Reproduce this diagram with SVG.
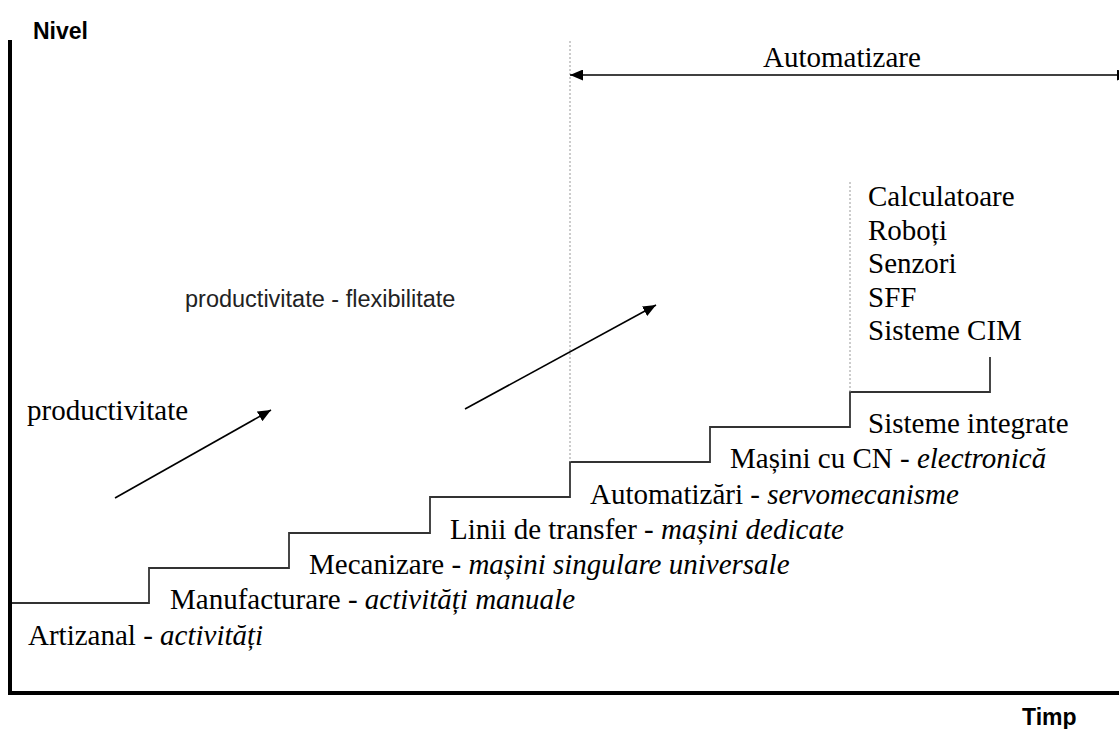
<svg xmlns="http://www.w3.org/2000/svg" width="1119" height="729" viewBox="0 0 1119 729">
<style>
.serif{font-family:"Liberation Serif","Times New Roman",serif;font-size:29px;fill:#000}
.it{font-style:italic}
.sans{font-family:"Liberation Sans",Arial,sans-serif;font-size:23.5px;fill:#222}
.bold{font-family:"Liberation Sans",Arial,sans-serif;font-size:23px;font-weight:bold;fill:#000}
.axis{stroke:#000;stroke-width:4;fill:none}
.stair{stroke:#333;stroke-width:1.8;fill:none}
.dot{stroke:#999;stroke-width:1;stroke-dasharray:2,2;fill:none}
.arr{stroke:#000;stroke-width:1.6;fill:none}
</style>
<defs>
<marker id="ah" markerUnits="userSpaceOnUse" markerWidth="14" markerHeight="11" refX="13" refY="5.5" orient="auto-start-reverse">
<path d="M0,0 L13,5.5 L0,11 z" fill="#000"/>
</marker>
</defs>
<rect width="1119" height="729" fill="#fff"/>
<g id="axes">
<line class="axis" x1="10" y1="40" x2="10" y2="695"/>
<line class="axis" x1="8" y1="693" x2="1119" y2="693"/>
<text id="nivel" class="bold" x="33" y="39">Nivel</text>
<text id="timp" class="bold" x="1022" y="725">Timp</text>
</g>
<g id="connectors">
<path class="stair" d="M12,603 H149 V568 H289 V533 H430 V497 H570 V462 H710 V427 H850 V392 H990 V357"/>
<line class="dot" x1="570" y1="41" x2="570" y2="462"/>
<line class="dot" x1="850" y1="182" x2="850" y2="392"/>
<line class="arr" x1="570" y1="75" x2="1130" y2="75" stroke-width="2" marker-start="url(#ah)" marker-end="url(#ah)"/>
<line class="arr" x1="115" y1="498" x2="271" y2="410" marker-end="url(#ah)"/>
<line class="arr" x1="465" y1="409" x2="656" y2="305" marker-end="url(#ah)"/>
</g>
<g id="automatizare"><text class="serif" x="763" y="67">Automatizare</text></g>
<g id="tehnologii">
<text class="serif" x="868" y="206">Calculatoare</text>
<text class="serif" x="868" y="240">Roboți</text>
<text class="serif" x="868" y="273">Senzori</text>
<text class="serif" x="868" y="307">SFF</text>
<text class="serif" x="868" y="340">Sisteme CIM</text>
</g>
<g id="prod-flex"><text class="sans" x="185" y="307">productivitate - flexibilitate</text></g>
<g id="prod"><text class="serif" x="27" y="420">productivitate</text></g>
<g id="sisteme-integrate"><text class="serif" x="868" y="433">Sisteme integrate</text></g>
<g id="masini-cn"><text class="serif" x="730" y="468">Mașini cu CN - <tspan class="it">electronică</tspan></text></g>
<g id="automatizari"><text class="serif" x="590" y="504">Automatizări - <tspan class="it">servomecanisme</tspan></text></g>
<g id="linii"><text class="serif" x="450" y="539">Linii de transfer - <tspan class="it">mașini dedicate</tspan></text></g>
<g id="mecanizare"><text class="serif" x="309" y="574">Mecanizare - <tspan class="it">mașini singulare universale</tspan></text></g>
<g id="manufacturare"><text class="serif" x="170" y="609">Manufacturare - <tspan class="it">activități manuale</tspan></text></g>
<g id="artizanal"><text class="serif" x="28" y="645">Artizanal - <tspan class="it">activități</tspan></text></g>
</svg>
